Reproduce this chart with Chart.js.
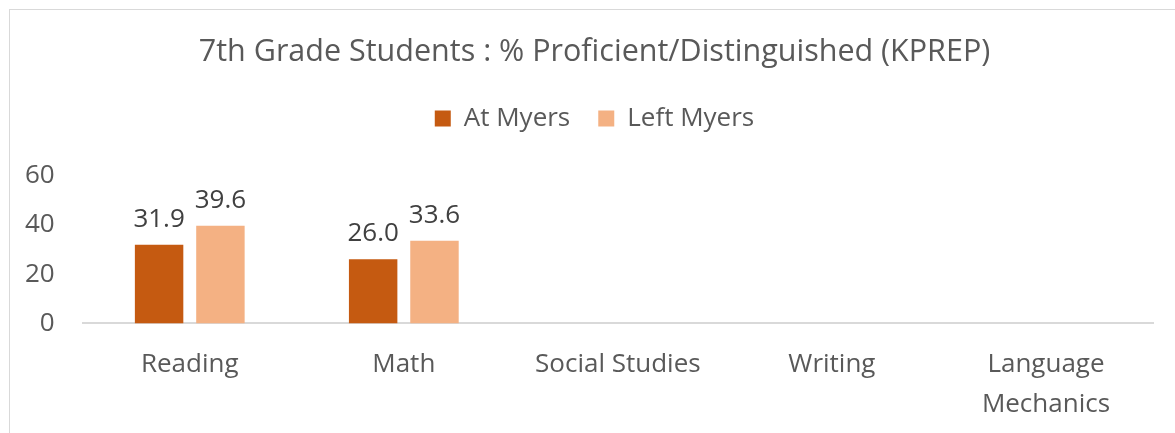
<!DOCTYPE html>
<html>
<head>
<meta charset="utf-8">
<script src="https://cdn.jsdelivr.net/npm/chart.js@4.4.0/dist/chart.umd.min.js"></script>
<style>
  html, body { margin: 0; padding: 0; background: #fff; overflow: hidden; }
  #moldura { position: absolute; left: 9px; top: 9px; width: 2000px; height: 2000px; border: 1px solid #D9D9D9; }
  #grafico { position: absolute; left: 0; top: 0; }
</style>
</head>
<body>
<div id="moldura"></div>
<canvas id="grafico" width="1175" height="433"></canvas>
<script>
const materias = ['Reading', 'Math', 'Social Studies', 'Writing', ['Language', 'Mechanics']]
const atMyers = [31.9, 26.0, null, null, null]
const leftMyers = [39.6, 33.6, null, null, null]
const ticksY = [0, 20, 40, 60]

const corTexto = '#595959'
const fonte = 'Open Sans'

// escreve o valor em cima de cada barra
const rotuloBarras = {
    id: 'rotuloBarras',
    afterDatasetsDraw(chart) {
        const ctx = chart.ctx
        ctx.save()
        ctx.font = '26px "' + fonte + '"'
        ctx.fillStyle = '#404040'
        ctx.textAlign = 'center'
        ctx.textBaseline = 'alphabetic'
        chart.data.datasets.forEach((ds, i) => {
            chart.getDatasetMeta(i).data.forEach((barra, j) => {
                const v = ds.data[j]
                if (v == null) return
                ctx.fillText(v.toFixed(1), barra.x, barra.y - 18)
            })
        })
        ctx.restore()
    }
}

// espaco extra entre a legenda e o grafico
const espacoLegenda = {
    id: 'espacoLegenda',
    beforeInit(chart) {
        const fitOriginal = chart.legend.fit
        chart.legend.fit = function () {
            fitOriginal.bind(chart.legend)()
            this.height += 34
        }
    }
}

new Chart(document.getElementById('grafico'), {
    type: 'bar',
    data: {
        labels: materias,
        datasets: [
            { label: 'At Myers', data: atMyers, backgroundColor: '#C55A11' },
            { label: 'Left Myers', data: leftMyers, backgroundColor: '#F4B183' }
        ]
    },
    options: {
        responsive: false,
        animation: false,
        datasets: { bar: { categoryPercentage: 0.573, barPercentage: 0.79 } },
        layout: { padding: { left: -3, right: -17, bottom: -13 } },
        plugins: {
            title: {
                display: true,
                text: '7th Grade Students : % Proficient/Distinguished (KPREP)',
                color: corTexto,
                font: { family: fonte, size: 30.5, weight: 'normal' },
                padding: { top: 34, bottom: 7 }
            },
            legend: {
                labels: {
                    color: corTexto,
                    font: { family: fonte, size: 26 },
                    boxWidth: 16,
                    boxHeight: 16,
                    padding: 28
                }
            },
            tooltip: { enabled: false }
        },
        scales: {
            x: {
                grid: { display: false, drawTicks: false },
                border: { display: true, color: '#D9D9D9', width: 2 },
                ticks: { color: corTexto, font: { family: fonte, size: 26, lineHeight: 1.55 }, padding: 21, maxRotation: 0 },
                afterFit(eixo) { eixo.paddingLeft = 0; eixo.paddingRight = 22 }
            },
            y: {
                min: 0,
                max: 60,
                afterBuildTicks(eixo) { eixo.ticks = ticksY.map(v => ({ value: v })) },
                grid: { display: false, drawTicks: false },
                border: { display: false },
                ticks: { color: corTexto, font: { family: fonte, size: 26 }, padding: 28 }
            }
        }
    },
    plugins: [rotuloBarras, espacoLegenda]
})
</script>
</body>
</html>
